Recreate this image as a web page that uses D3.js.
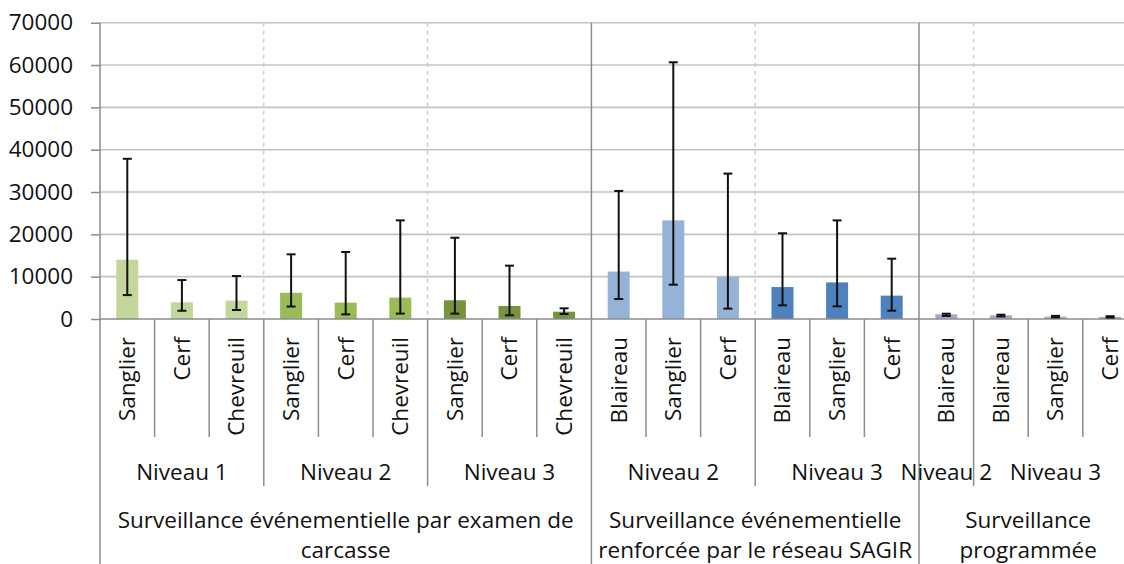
<!DOCTYPE html>
<html>
<head>
<meta charset="utf-8">
<script src="https://cdn.jsdelivr.net/npm/d3@7"></script>
<style>
  body { margin: 0; background: #fff; }
  svg { display: block; }
  text { font-family: "Open Sans", sans-serif; fill: #111; }
</style>
</head>
<body>
<svg id="chart" width="1124" height="564"></svg>
<script>
// espèces (catégories de l'axe)
var species = ['Sanglier', 'Cerf', 'Chevreuil', 'Sanglier', 'Cerf', 'Chevreuil', 'Sanglier', 'Cerf', 'Chevreuil',
               'Blaireau', 'Sanglier', 'Cerf', 'Blaireau', 'Sanglier', 'Cerf',
               'Blaireau', 'Blaireau', 'Sanglier', 'Cerf'];
// niveaux : libellé et nombre d'espèces
var levels = [['Niveau 1', 3], ['Niveau 2', 3], ['Niveau 3', 3], ['Niveau 2', 3], ['Niveau 3', 3], ['Niveau 2', 1], ['Niveau 3', 3]];
// types de surveillance : lignes du libellé et nombre d'espèces
var groups = [[['Surveillance événementielle par examen de', 'carcasse'], 9],
              [['Surveillance événementielle', 'renforcée par le réseau SAGIR'], 6],
              [['Surveillance', 'programmée'], 4]];
// valeurs et barres d'erreur
var values  = [14000, 3950, 4350, 6200, 3870, 5050, 4420, 3080, 1730, 11200, 23300, 9950, 7550, 8650, 5520, 1100, 870, 560, 500];
var errLow  = [5650, 1950, 2120, 2950, 1100, 1270, 1270, 880, 1180, 4720, 8100, 2450, 3230, 2990, 1960, 720, 600, 380, 330];
var errHigh = [37850, 9200, 10150, 15280, 15830, 23300, 19200, 12600, 2520, 30250, 60650, 34350, 20250, 23300, 14250, 1250, 1020, 740, 660];
var yTicks = [0, 10000, 20000, 30000, 40000, 50000, 60000, 70000];

var levelColors = ['#c3d69b', '#9bbb59', '#77933c', '#95b3d7', '#4f81bd', '#b3a2c7', '#b3a2c7'];

var svg = d3.select('#chart'),
    plotLeft = 100, plotTop = 22.7, base = 319,
    band = 54.6, // largeur d'une catégorie
    fontSize = 22.5;

var x = d3.scaleBand().domain(d3.range(species.length)).range([plotLeft, plotLeft + band * species.length]);
var y = d3.scaleLinear().domain([0, 70000]).range([base, plotTop]);
var plotRight = x.range()[1];

// couleur de chaque barre d'après son niveau
var colorOf = [];
levels.forEach(function (l, i) { for (var k = 0; k < l[1]; k++) colorOf.push(levelColors[i]); });

// grille
svg.append('g').selectAll('line').data(yTicks.slice(1)).enter().append('line')
  .attr('x1', plotLeft).attr('x2', plotRight)
  .attr('y1', function (d) { return y(d); }).attr('y2', function (d) { return y(d); })
  .attr('stroke', '#c4c4c4').attr('stroke-width', 1.6);

// axe y
var yAxis = d3.axisLeft(y).tickValues(yTicks).tickSize(9).tickPadding(18).tickFormat(d3.format('d'));
var ga = svg.append('g').attr('transform', 'translate(' + plotLeft + ',0)').call(yAxis);
ga.select('.domain').remove();
ga.selectAll('.tick line').attr('stroke', '#8c8c8c').attr('stroke-width', 1.5);
ga.selectAll('.tick text').style('font-size', fontSize + 'px').style('font-family', '"Open Sans", sans-serif').attr('fill', '#111');
svg.append('line').attr('x1', plotLeft).attr('x2', plotLeft).attr('y1', plotTop).attr('y2', 564)
  .attr('stroke', '#8c8c8c').attr('stroke-width', 1.5);

// limites des niveaux et des groupes
var levelEdges = [], groupEdges = [], pos = 0;
levels.forEach(function (l) { pos += l[1]; levelEdges.push(pos); });
pos = 0;
groups.forEach(function (g) { pos += g[1]; groupEdges.push(pos); });
levelEdges.forEach(function (e) {
  if (e >= species.length || groupEdges.indexOf(e) >= 0) return;
  var xe = plotLeft + e * band;
  svg.append('line').attr('x1', xe).attr('x2', xe).attr('y1', plotTop).attr('y2', base)
    .attr('stroke', '#c8c8c8').attr('stroke-width', 1.3).attr('stroke-dasharray', '4,4');
  svg.append('line').attr('x1', xe).attr('x2', xe).attr('y1', base).attr('y2', 486)
    .attr('stroke', '#8c8c8c').attr('stroke-width', 1.5);
});
groupEdges.forEach(function (e) {
  var xe = plotLeft + e * band;
  svg.append('line').attr('x1', xe).attr('x2', xe).attr('y1', plotTop).attr('y2', 564)
    .attr('stroke', '#8c8c8c').attr('stroke-width', 1.5);
});
// séparateurs des espèces
d3.range(1, species.length).forEach(function (i) {
  if (levelEdges.indexOf(i) >= 0) return;
  var xe = plotLeft + i * band;
  svg.append('line').attr('x1', xe).attr('x2', xe).attr('y1', base).attr('y2', 437)
    .attr('stroke', '#8c8c8c').attr('stroke-width', 1.5);
});

// barres
var barW = 22;
svg.append('g').selectAll('rect').data(values).enter().append('rect')
  .attr('x', function (d, i) { return x(i) + band / 2 - barW / 2; })
  .attr('y', function (d) { return y(d); })
  .attr('width', barW)
  .attr('height', function (d) { return base - y(d); })
  .attr('fill', function (d, i) { return colorOf[i]; });

// axe x
svg.append('line').attr('x1', plotLeft).attr('x2', plotRight).attr('y1', base).attr('y2', base)
  .attr('stroke', '#8c8c8c').attr('stroke-width', 1.5);

// barres d'erreur
var eg = svg.append('g').attr('stroke', '#111').attr('stroke-width', 2);
values.forEach(function (v, i) {
  var cx = x(i) + band / 2;
  eg.append('line').attr('x1', cx).attr('x2', cx).attr('y1', y(errLow[i])).attr('y2', y(errHigh[i]));
  [errLow[i], errHigh[i]].forEach(function (e) {
    eg.append('line').attr('x1', cx - 4.5).attr('x2', cx + 4.5).attr('y1', y(e)).attr('y2', y(e));
  });
});

// libellés des espèces
svg.append('g').selectAll('text').data(species).enter().append('text')
  .attr('transform', function (d, i) { return 'translate(' + (x(i) + band / 2) + ',337) rotate(-90)'; })
  .attr('text-anchor', 'end').attr('dy', '0.35em')
  .style('font-size', fontSize + 'px')
  .text(function (d) { return d; });

// libellés des niveaux
pos = 0;
levels.forEach(function (l) {
  svg.append('text').attr('x', plotLeft + (pos + l[1] / 2) * band).attr('y', 472).attr('dy', '0.35em')
    .attr('text-anchor', 'middle').style('font-size', fontSize + 'px').text(l[0]);
  pos += l[1];
});

// libellés des groupes
pos = 0;
groups.forEach(function (g) {
  g[0].forEach(function (line, k) {
    svg.append('text').attr('x', plotLeft + (pos + g[1] / 2) * band).attr('y', 520 + k * 30).attr('dy', '0.35em')
      .attr('text-anchor', 'middle').style('font-size', fontSize + 'px').text(line);
  });
  pos += g[1];
});
</script>
</body>
</html>
